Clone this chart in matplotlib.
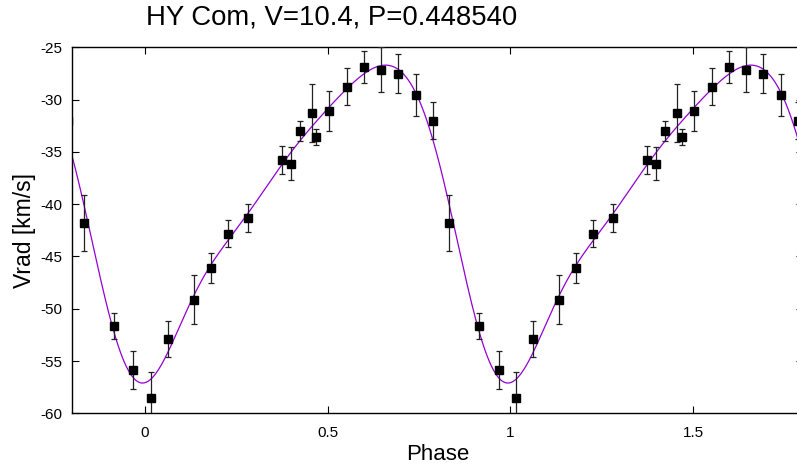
import numpy as np
import matplotlib
matplotlib.use("Agg")
import matplotlib.pyplot as plt

plt.rcParams['font.family'] = ['Liberation Sans', 'DejaVu Sans']
plt.rcParams['axes.unicode_minus'] = False

# one cycle of measurements (phase in [0,1))
phase = [0.0155, 0.062, 0.133, 0.180, 0.227, 0.281, 0.375, 0.399, 0.423, 0.457,
         0.469, 0.504, 0.552, 0.599, 0.645, 0.6925, 0.741, 0.788, 0.832, 0.915, 0.968]
vrad = [-58.54, -52.89, -49.13, -46.10, -42.85, -41.32, -35.77, -36.13, -33.00, -31.28,
        -33.58, -31.09, -28.79, -26.88, -27.14, -27.52, -29.56, -32.01, -41.80, -51.65, -55.86]
verr = [2.49, 1.74, 2.31, 1.45, 1.29, 1.35, 1.32, 1.56, 0.99, 2.74,
        0.75, 1.88, 1.77, 1.55, 2.14, 1.86, 2.01, 1.74, 2.68, 1.20, 1.82]
cycle_offsets = [-1, 0, 1]
xticks = [0, 0.5, 1, 1.5]
yticks = [-60, -55, -50, -45, -40, -35, -30, -25]
title = "HY Com, V=10.4, P=0.448540"

ph = np.array(phase)
v = np.array(vrad)
e = np.array(verr)

# harmonic least-squares fit of the measurements (as the original fitted curve)
order = 4
def design(p):
    cols = [np.ones_like(p)]
    for k in range(1, order + 1):
        cols.append(np.cos(2 * np.pi * k * p))
        cols.append(np.sin(2 * np.pi * k * p))
    return np.vstack(cols).T
coef, *_ = np.linalg.lstsq(design(ph), v, rcond=None)
pfine = np.linspace(-0.25, 1.85, 1200)
vfine = design(pfine) @ coef

W, H = 797, 472
fig = plt.figure(figsize=(W / 100, H / 100), dpi=100)
left, bottom = 72 / W, (H - 413.3) / H
height = (413.3 - 47.3) / H
width = 730.6 / W
ax = fig.add_axes([left, bottom, width, height])

ax.plot(pfine, vfine, color='#9400D3', lw=0.9, zorder=2)
for off in cycle_offsets:
    ax.errorbar(ph + off, v, yerr=e, fmt='s', color='black', ms=5.4,
                ecolor='#222222', elinewidth=0.9, capsize=2.5, capthick=0.9, zorder=3)

ax.set_xlim(-0.2, 1.8)
ax.set_ylim(-60, -25)
ax.set_xticks(xticks)
ax.set_xticklabels(['0', '0.5', '1', '1.5'])
ax.set_yticks(yticks)
ax.tick_params(direction='in', length=5, width=0.8, labelsize=11, top=True, right=True)
ax.tick_params(axis='x', pad=9)
ax.tick_params(axis='y', pad=7)
for s in ax.spines.values():
    s.set_linewidth(1.0)
ax.set_xlabel('Phase', fontsize=16, labelpad=3)
ax.set_ylabel('Vrad [km/s]', fontsize=16.5, labelpad=3)
fig.text(331.7 / W, 1 - 25 / H, title, fontsize=19.8, ha='center', va='baseline')

fig.savefig('out.png', dpi=100)
